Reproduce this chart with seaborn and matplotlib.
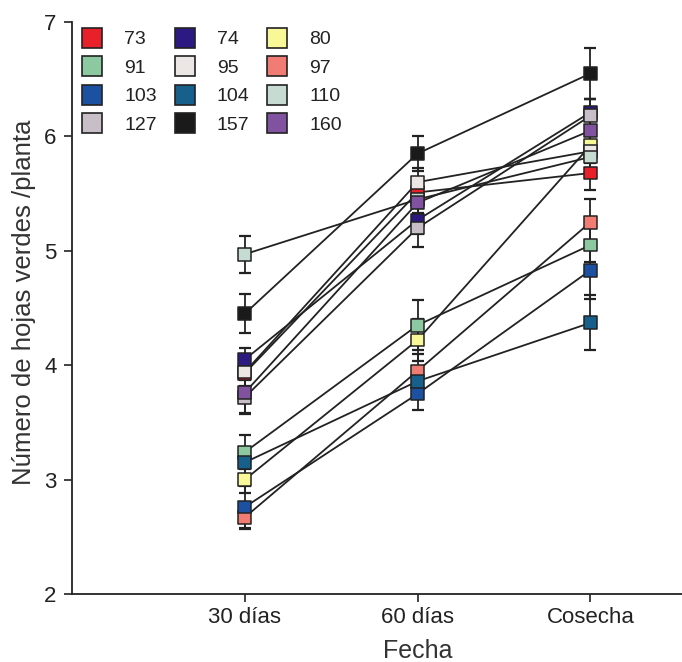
import matplotlib
matplotlib.use("Agg")
import matplotlib.pyplot as plt
import numpy as np
import pandas as pd
import seaborn as sns
from matplotlib.lines import Line2D

# ---- data ----
fechas = ["30 días", "60 días", "Cosecha"]
genotipos = ["73", "74", "80", "91", "95", "97", "103", "104", "110", "127", "157", "160"]
colores = ["#e8202a", "#2c1a82", "#f8f898", "#8cc8a0", "#ece6e4", "#f07c74",
           "#1c50a0", "#18608c", "#c6dcd2", "#c8bec8", "#1a1a1a", "#8052a0"]
v_30 = [3.93, 4.05, 3.00, 3.24, 3.94, 2.67, 2.76, 3.15, 4.97, 3.72, 4.45, 3.76]
v_60 = [5.51, 5.27, 4.22, 4.35, 5.60, 3.95, 3.75, 3.86, 5.45, 5.20, 5.85, 5.42]
v_cos = [5.68, 6.21, 5.92, 5.05, 5.87, 5.25, 4.83, 4.37, 5.82, 6.18, 6.55, 6.05]
e_30 = [0.12, 0.10, 0.12, 0.15, 0.12, 0.10, 0.18, 0.12, 0.16, 0.15, 0.17, 0.18]
e_60 = [0.12, 0.12, 0.18, 0.22, 0.12, 0.15, 0.14, 0.12, 0.12, 0.17, 0.15, 0.12]
e_cos = [0.15, 0.12, 0.15, 0.15, 0.15, 0.20, 0.25, 0.24, 0.15, 0.15, 0.22, 0.15]

rows = []
for i, g in enumerate(genotipos):
    for j, (vals, errs) in enumerate(zip([v_30, v_60, v_cos], [e_30, e_60, e_cos])):
        rows.append({"genotipo": g, "pos": j + 1, "fecha": fechas[j],
                     "valor": vals[i], "err": errs[i]})
df = pd.DataFrame(rows)
palette = dict(zip(genotipos, colores))

sns.set_style("ticks")
plt.rcParams["font.family"] = ["Liberation Sans", "DejaVu Sans"]
ink = "#222222"

fig = plt.figure(figsize=(6.82, 6.62), dpi=100)
ax = fig.add_axes([72 / 682, 1 - 594 / 662, 1 - 72 / 682, (594 - 22) / 662])

sns.lineplot(data=df, x="pos", y="valor", units="genotipo", estimator=None,
             color=ink, linewidth=1.3, ax=ax, zorder=1, legend=False)
ax.errorbar(df["pos"], df["valor"], yerr=df["err"], fmt="none", ecolor=ink,
            elinewidth=1.3, capsize=4, capthick=1.6, zorder=2)
sns.scatterplot(data=df, x="pos", y="valor", hue="genotipo", palette=palette,
                marker="s", s=85, edgecolor=ink, linewidth=1.1, ax=ax,
                zorder=3, legend=False)

ax.set_xlim(0, 3.53)
ax.set_ylim(2, 7)
ax.set_xticks([1, 2, 3])
ax.set_xticklabels(fechas)
ax.set_yticks([2, 3, 4, 5, 6, 7])
ax.tick_params(axis="both", labelsize=16, colors=ink, length=6, width=1.2)
ax.tick_params(axis="y", pad=5)
for s in ["top", "right"]:
    ax.spines[s].set_visible(False)
for s in ["left", "bottom"]:
    ax.spines[s].set_color(ink)
    ax.spines[s].set_linewidth(1.3)
ax.set_xlabel("Fecha", fontsize=18, color="#333333")
ax.set_ylabel("Número de hojas verdes /planta", fontsize=18.5, color="#333333")
ax.xaxis.set_label_coords(2 / 3.53, -45 / 572)
ax.yaxis.set_label_coords(-36 / 610, (594 - 302) / 572)

# legend in row order (73,74,80 / 91,95,97 / ...)
order = genotipos[0::3] + genotipos[1::3] + genotipos[2::3]
handles = [Line2D([], [], marker="s", ls="", markersize=14,
                  markerfacecolor=palette[g], markeredgecolor=ink,
                  markeredgewidth=1.2) for g in order]
leg = fig.legend(handles, order, ncol=3, loc="upper left",
                 bbox_to_anchor=(65 / 682, 1 - 23 / 662), frameon=False,
                 fontsize=14, borderaxespad=0, columnspacing=0.42,
                 labelspacing=0.56, handletextpad=0.65, handlelength=2.0)
for t in leg.get_texts():
    t.set_color(ink)

fig.savefig("out.png", dpi=100)
